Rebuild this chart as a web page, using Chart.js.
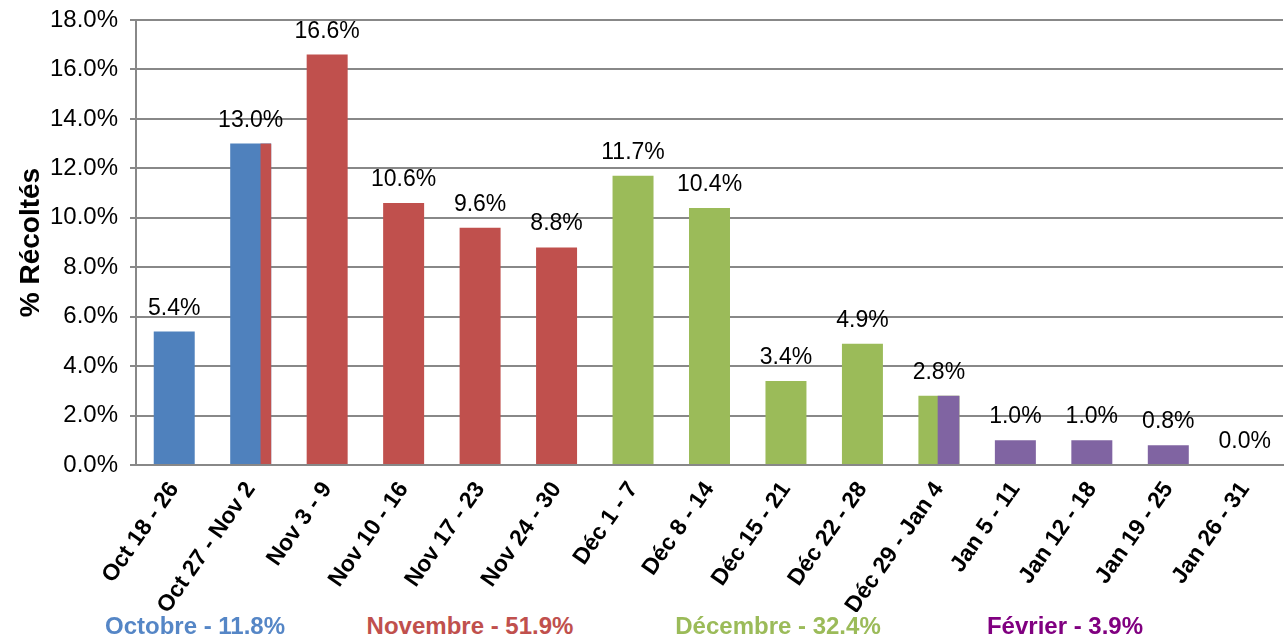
<!DOCTYPE html>
<html>
<head>
<meta charset="utf-8">
<script src="https://cdn.jsdelivr.net/npm/chart.js@4"></script>
<style>
  body { margin: 0; background: #fff; }
  #wrap { position: relative; width: 1286px; height: 642px; }
  .month { position: absolute; top: 612px; transform: translateX(-50%); white-space: nowrap;
    background: #fff; font: bold 24px "Liberation Sans", Arial, sans-serif; }
</style>
</head>
<body>
<div id="wrap">
  <canvas id="chart" width="1286" height="642"></canvas>
  <div id="months"></div>
</div>
<script>
const weeks = ['Oct 18 - 26', 'Oct 27 - Nov 2', 'Nov 3 - 9', 'Nov 10 - 16', 'Nov 17 - 23', 'Nov 24 - 30',
  'Déc 1 - 7', 'Déc 8 - 14', 'Déc 15 - 21', 'Déc 22 - 28', 'Déc 29 - Jan 4',
  'Jan 5 - 11', 'Jan 12 - 18', 'Jan 19 - 25', 'Jan 26 - 31']
const harvested = [5.4, 13.0, 16.6, 10.6, 9.6, 8.8, 11.7, 10.4, 3.4, 4.9, 2.8, 1.0, 1.0, 0.8, 0.0]
// month of each week (first part of the bar) and, for weeks that straddle two months, the second one
const weekMonth = [0, 0, 1, 1, 1, 1, 2, 2, 2, 2, 2, 3, 3, 3, 3]
const splitMonth = [null, 1, null, null, null, null, null, null, null, null, 3, null, null, null, null]
const splitShare = [null, 0.74, null, null, null, null, null, null, null, null, 0.47, null, null, null, null]

const months = ['Octobre', 'Novembre', 'Décembre', 'Février']
const monthShares = [11.8, 51.9, 32.4, 3.9]

const barColors = ['#4F81BD', '#C0504D', '#9BBB59', '#8064A2']
const textColors = ['#5586C6', '#C0504D', '#9BBB59', '#800080']
const monthX = [195, 470, 778, 1065]

const FONT = '"Liberation Sans", Arial, sans-serif'
const GRID = '#888888'

const splitBars = {
  id: 'splitBars',
  afterDatasetsDraw(chart) {
    const ctx = chart.ctx
    const meta = chart.getDatasetMeta(0)
    meta.data.forEach((bar, i) => {
      if (splitMonth[i] === null) return
      const { x, y, base, width } = bar.getProps(['x', 'y', 'base', 'width'], true)
      const left = x - width / 2
      const cut = left + width * splitShare[i]
      ctx.save()
      ctx.fillStyle = barColors[splitMonth[i]]
      ctx.fillRect(cut, y, x + width / 2 - cut, base - y)
      ctx.restore()
    })
  }
}

const valueLabels = {
  id: 'valueLabels',
  afterDatasetsDraw(chart) {
    const ctx = chart.ctx
    const meta = chart.getDatasetMeta(0)
    ctx.save()
    ctx.font = '23px ' + FONT
    ctx.fillStyle = '#000'
    ctx.textAlign = 'center'
    ctx.textBaseline = 'alphabetic'
    meta.data.forEach((bar, i) => {
      ctx.fillText(harvested[i].toFixed(1) + '%', bar.x, bar.y - 17)
    })
    ctx.restore()
  }
}

new Chart(document.getElementById('chart'), {
  type: 'bar',
  data: {
    labels: weeks,
    datasets: [{
      data: harvested,
      backgroundColor: weekMonth.map(m => barColors[m]),
      borderWidth: 0,
      barPercentage: 0.536,
      categoryPercentage: 1
    }]
  },
  plugins: [splitBars, valueLabels],
  options: {
    responsive: false,
    animation: false,
    layout: { padding: { top: 20, right: 3, bottom: 0, left: 0 } },
    plugins: { legend: { display: false }, tooltip: { enabled: false } },
    scales: {
      x: {
        grid: { display: false },
        border: { display: true, color: GRID, width: 2 },
        ticks: { color: '#000', font: { family: FONT, size: 23, weight: 'bold' },
          minRotation: 55, maxRotation: 55, autoSkip: false, padding: 4 },
        afterFit: s => { s.height = 177; s.paddingLeft = 0; s.paddingRight = 0 }
      },
      y: {
        min: 0, max: 18,
        grid: { color: GRID, lineWidth: 2, tickLength: 6 },
        border: { display: true, color: GRID, width: 2 },
        ticks: { stepSize: 2, color: '#000', font: { family: FONT, size: 24 }, padding: 12,
          callback: v => v.toFixed(1) + '%' },
        title: { display: true, text: '% Récoltés', color: '#000', font: { family: FONT, size: 28, weight: 'bold' },
          padding: { top: 14, bottom: 0 } },
        afterFit: s => { s.width = 136; s.paddingTop = 0; s.paddingBottom = 0 }
      }
    }
  }
})

const box = document.getElementById('months')
months.forEach((m, i) => {
  const d = document.createElement('div')
  d.className = 'month'
  d.style.left = monthX[i] + 'px'
  d.style.color = textColors[i]
  d.textContent = m + ' - ' + monthShares[i].toFixed(1) + '%'
  box.appendChild(d)
})
</script>
</body>
</html>
